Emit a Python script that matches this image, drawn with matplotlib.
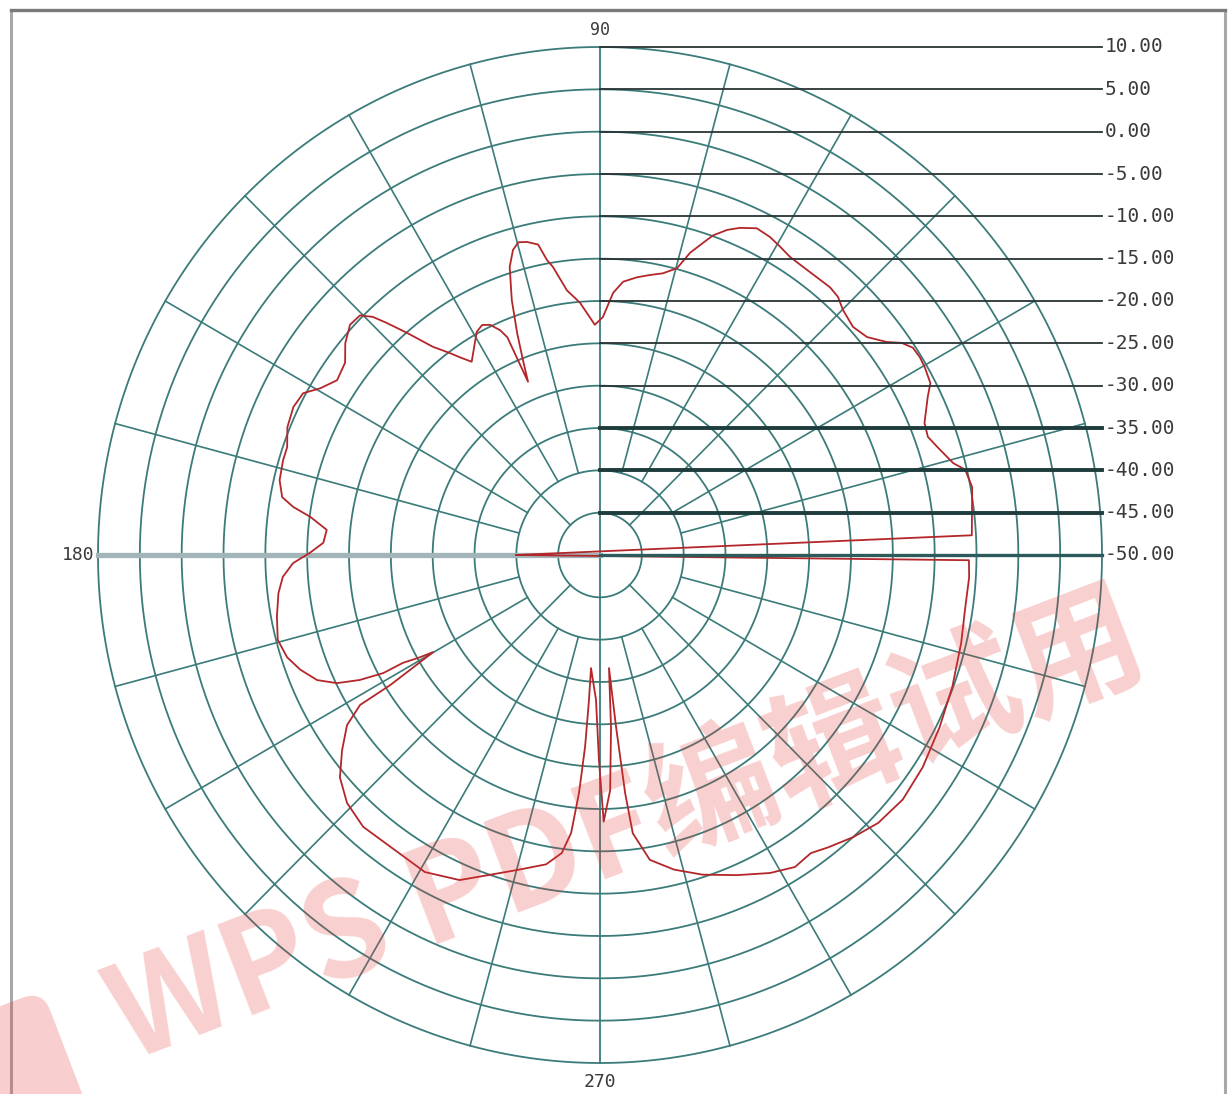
import numpy as np
import matplotlib
matplotlib.use('Agg')
import matplotlib.pyplot as plt
from matplotlib.patches import Rectangle, FancyBboxPatch
from matplotlib.transforms import Affine2D


# measured pattern, in drawing order (deg, dB)
angle_deg = [180.0,
             3.0, 10.2, 13.0, 14.4, 17.0, 19.6, 21.9, 25.5, 27.2, 29.7,
             31.4, 33.2, 34.8, 36.3, 38.9, 41.7, 44.9, 47.0, 49.0, 51.7,
             54.5, 57.2, 59.4, 61.6, 64.1, 66.6, 68.4, 70.3, 71.5, 73.2,
             74.8, 77.3, 79.8, 82.3, 85.1, 87.1, 89.3, 91.3, 93.1, 94.6,
             97.2, 99.4, 100.3, 101.4, 103.3, 104.8, 106.1, 107.6, 109.3, 110.7,
             111.8, 112.8, 113.3, 114.2, 115.8, 117.4, 119.2, 123.9, 125.6, 126.9,
             129.1, 131.3, 132.9, 134.0, 135.4, 137.7, 140.6, 143.3, 146.7, 149.5,
             151.7, 154.5, 158.0, 161.2, 163.5, 167.0, 169.8, 171.2, 172.6, 174.8,
             177.5, 179.6, 181.5, 183.9, 186.7, 190.7, 194.6, 197.9, 200.7, 203.6,
             205.7, 207.2, 208.3, 208.4, 209.3, 209.9, 211.5, 211.7, 213.6, 216.8,
             220.2, 224.1, 228.6, 234.3, 240.8, 246.4, 250.8, 255.1, 260.0, 262.6,
             264.0, 264.9, 265.5, 265.6, 265.4, 268.4, 269.7, 270.8, 272.5, 273.7,
             274.6, 275.4, 276.1, 276.8, 279.4, 283.4, 288.0, 293.4, 298.4, 302.3,
             305.6, 308.3, 312.2, 316.4, 321.4, 327.0, 333.4, 339.7, 346.5, 351.5,
             356.6, 359.2]
gain_db = [-40.0,
           -5.5, -4.8, -5.2, -6.4, -7.5, -8.4, -8.2, -6.6, -5.6, -5.3,
           -5.2, -5.3, -6.1, -7.5, -9.0, -9.5, -9.0, -8.3, -8.1, -8.2,
           -8.2, -8.1, -7.7, -7.3, -7.1, -7.9, -8.7, -9.9, -11.1, -12.7,
           -14.9, -15.9, -16.4, -16.9, -17.6, -19.0, -21.9, -22.8, -21.4, -20.1,
           -18.5, -15.5, -14.6, -12.6, -12.0, -11.8, -12.5, -14.3, -18.1, -22.0,
           -25.2, -27.8, -22.0, -20.9, -19.8, -19.4, -19.8, -22.5, -21.3, -20.2,
           -18.3, -15.1, -12.6, -10.9, -9.7, -9.6, -10.6, -12.0, -12.4, -11.2,
           -9.7, -9.4, -9.7, -10.5, -10.5, -10.7, -11.4, -12.9, -15.1, -17.2,
           -16.9, -15.3, -13.3, -12.0, -11.3, -10.7, -10.2, -10.7, -11.7, -13.1,
           -15.1, -17.7, -20.6, -23.2, -25.3, -27.0, -20.6, -16.3, -13.7, -11.5,
           -9.3, -7.9, -7.2, -7.4, -7.1, -8.1, -10.0, -11.5, -12.9, -14.5,
           -17.0, -21.8, -27.3, -32.8, -36.6, -32.9, -25.8, -18.5, -22.2, -29.6,
           -36.6, -29.6, -21.7, -16.9, -13.5, -11.8, -10.3, -8.8, -7.3, -6.4,
           -6.7, -6.0, -5.0, -4.1, -3.7, -4.0, -4.6, -5.1, -5.6, -5.9,
           -5.8, -5.9]

r_min, r_max = -50, 10
ring_levels = [-45, -40, -35, -30, -25, -20, -15, -10, -5, 0, 5, 10]
label_levels = [10, 5, 0, -5, -10, -15, -20, -25, -30, -35, -40, -45, -50]
angle_labels = ['90', '180', '270']
watermark = 'WPS PDF编辑试用'

grid_c = '#3b7b79'
curve_c = '#b3262a'

W, H = 1230, 1094
fig = plt.figure(figsize=(W / 100, H / 100), dpi=100)
fig.patch.set_facecolor('white')

cx, cy, rx, ry = 600, 555, 502, 508
rect = [(cx - rx) / W, (H - cy - ry) / H, 2 * rx / W, 2 * ry / H]

ax = fig.add_axes(rect, projection='polar')
ax.set_aspect('auto')
ax.set_ylim(r_min, r_max)
ax.set_xticks([])
ax.set_yticks([])
ax.grid(False)
ax.spines['polar'].set_visible(False)
ax.patch.set_alpha(0)

th = np.linspace(0, 2 * np.pi, 721)
for lev in ring_levels:
    ax.plot(th, np.full_like(th, lev), color=grid_c, lw=1.3, zorder=2,
            clip_on=False)

for a in range(0, 360, 15):
    if a % 90 == 0:
        continue
    start = -45 if a % 45 == 0 else -40
    ax.plot([np.radians(a)] * 2, [start, r_max], color=grid_c, lw=1.2,
            zorder=2, clip_on=False)

ax.plot([np.pi / 2] * 2, [r_min, r_max], color=grid_c, lw=1.3, zorder=2,
        clip_on=False)
ax.plot([3 * np.pi / 2] * 2, [r_min, r_max], color=grid_c, lw=1.3, zorder=2,
        clip_on=False)
ax.plot([np.pi] * 2, [r_min, r_max], color='#a2b6ba', lw=3.8, zorder=2,
        clip_on=False)

th_c = np.radians(angle_deg + angle_deg[:1])
g_c = np.array(gain_db + gain_db[:1])
ax.plot(th_c, g_c, color=curve_c, lw=1.3, zorder=6)

# overlay for the level labels
ov = fig.add_axes(rect)
ov.set_xlim(-60, 60)
ov.set_ylim(-60, 60)
ov.axis('off')
ov.patch.set_alpha(0)

for lev in label_levels:
    y = lev - r_min
    if lev == -50:
        c, lw = '#2d5a5a', 2.4
    elif lev <= -35:
        c, lw = '#1e3c3c', 2.8
    else:
        c, lw = '#2a3434', 1.3
    ov.plot([0, 60], [y, y], color=c, lw=lw, zorder=4, clip_on=False)
    ov.text(60.3, y, '%.2f' % lev, ha='left', va='center', fontsize=14,
            family='DejaVu Sans Mono', color='#3a3a3a', clip_on=False)

ov.text(0, 62.0, angle_labels[0], ha='center', va='center', fontsize=12,
        family='DejaVu Sans Mono', color='#3a3a3a')
ov.text(-60.4, 0, angle_labels[1], ha='right', va='center', fontsize=13,
        family='DejaVu Sans Mono', color='#3a3a3a')
ov.text(0, -62.3, angle_labels[2], ha='center', va='center', fontsize=13,
        family='DejaVu Sans Mono', color='#3a3a3a')

# page frame
fig.add_artist(Rectangle((11 / W, -0.02), (1225 - 11) / W, (H - 10) / H + 0.02,
                         transform=fig.transFigure, fill=False,
                         ec='#a8a8a8', lw=2.2))
fig.add_artist(plt.Line2D([11 / W, 1225 / W], [1 - 10 / H] * 2,
                          transform=fig.transFigure, color='#7a7a7a', lw=2.4))

# watermark
fig.text(628 / W, 1 - 830 / H, watermark, fontsize=94, fontweight='bold',
         color='#e53935', alpha=0.24, rotation=21, rotation_mode='anchor',
         ha='center', va='center', family=['Noto Sans CJK SC', 'DejaVu Sans'],
         zorder=10)
logo = FancyBboxPatch((-60, -45), 130, 130,
                      boxstyle='round,pad=0,rounding_size=22',
                      fc='#e53935', ec='none', alpha=0.24,
                      transform=Affine2D().rotate_deg_around(5, 20, 21))
fig.add_artist(logo)

fig.savefig('out.png', dpi=100)
